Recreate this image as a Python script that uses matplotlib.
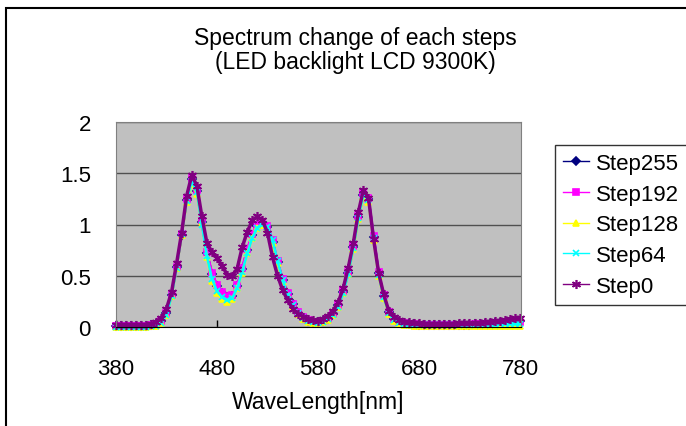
import numpy as np
import matplotlib
matplotlib.use("Agg")
import matplotlib.pyplot as plt
from matplotlib.patches import Rectangle

plt.rcParams['font.family'] = ['Liberation Sans', 'DejaVu Sans']

# wavelength in nm, one reading every 5 nm from 380 to 780
wavelength = np.arange(380, 781, 5)

step255 = [0.01, 0.01, 0.01, 0.01, 0.01, 0.01, 0.01, 0.02, 0.03, 0.06,
           0.14, 0.31, 0.59, 0.90, 1.24, 1.44, 1.33, 1.02, 0.72, 0.52,
           0.40, 0.33, 0.29, 0.30, 0.40, 0.57, 0.75, 0.90, 0.99, 1.02,
           0.98, 0.83, 0.63, 0.46, 0.32, 0.22, 0.14, 0.09, 0.06, 0.05,
           0.045, 0.055, 0.08, 0.13, 0.21, 0.34, 0.53, 0.78, 1.07, 1.29,
           1.25, 0.88, 0.53, 0.30, 0.15, 0.08, 0.05, 0.035, 0.03, 0.025,
           0.02, 0.02, 0.02, 0.02, 0.02, 0.02, 0.02, 0.02, 0.02, 0.02,
           0.02, 0.025, 0.025, 0.03, 0.03, 0.035, 0.04, 0.04, 0.045, 0.05,
           0.055]
step192 = [0.01, 0.01, 0.01, 0.01, 0.01, 0.01, 0.01, 0.02, 0.03, 0.06,
           0.14, 0.31, 0.59, 0.91, 1.25, 1.45, 1.34, 1.03, 0.73, 0.53,
           0.41, 0.34, 0.30, 0.31, 0.41, 0.58, 0.76, 0.91, 1.00, 1.02,
           0.99, 0.85, 0.64, 0.47, 0.33, 0.22, 0.15, 0.10, 0.065, 0.05,
           0.045, 0.055, 0.08, 0.13, 0.21, 0.35, 0.54, 0.79, 1.08, 1.31,
           1.26, 0.89, 0.54, 0.31, 0.15, 0.08, 0.05, 0.035, 0.03, 0.025,
           0.02, 0.02, 0.02, 0.02, 0.02, 0.02, 0.02, 0.02, 0.02, 0.02,
           0.02, 0.025, 0.025, 0.03, 0.03, 0.035, 0.04, 0.04, 0.045, 0.05,
           0.05]
step128 = [0.0, 0.0, 0.0, 0.0, 0.0, 0.0, 0.0, 0.005, 0.01, 0.04,
           0.12, 0.30, 0.58, 0.90, 1.22, 1.40, 1.30, 1.02, 0.68, 0.45,
           0.33, 0.27, 0.245, 0.27, 0.38, 0.53, 0.72, 0.87, 0.97, 1.00,
           0.96, 0.82, 0.62, 0.44, 0.30, 0.20, 0.13, 0.08, 0.05, 0.04,
           0.035, 0.045, 0.07, 0.12, 0.20, 0.33, 0.52, 0.76, 1.05, 1.27,
           1.22, 0.85, 0.50, 0.28, 0.13, 0.06, 0.03, 0.02, 0.015, 0.01,
           0.01, 0.01, 0.01, 0.01, 0.01, 0.01, 0.01, 0.01, 0.01, 0.01,
           0.01, 0.01, 0.01, 0.01, 0.01, 0.01, 0.01, 0.01, 0.01, 0.01,
           0.01]
step64 = [0.0, 0.0, 0.0, 0.0, 0.0, 0.0, 0.0, 0.005, 0.01, 0.04,
          0.12, 0.30, 0.58, 0.91, 1.23, 1.42, 1.32, 1.00, 0.69, 0.47,
          0.35, 0.29, 0.26, 0.28, 0.38, 0.54, 0.72, 0.87, 0.97, 1.00,
          0.98, 0.85, 0.64, 0.46, 0.31, 0.21, 0.14, 0.09, 0.06, 0.045,
          0.04, 0.05, 0.075, 0.12, 0.20, 0.33, 0.52, 0.77, 1.06, 1.29,
          1.24, 0.87, 0.51, 0.29, 0.14, 0.07, 0.04, 0.025, 0.02, 0.015,
          0.015, 0.015, 0.015, 0.015, 0.015, 0.015, 0.015, 0.015, 0.015, 0.015,
          0.015, 0.015, 0.015, 0.02, 0.02, 0.02, 0.025, 0.025, 0.03, 0.03,
          0.03]
step0 = [0.02, 0.02, 0.02, 0.02, 0.02, 0.02, 0.02, 0.03, 0.05, 0.09,
         0.18, 0.34, 0.62, 0.92, 1.28, 1.48, 1.38, 1.08, 0.82, 0.73,
         0.67, 0.60, 0.51, 0.50, 0.57, 0.78, 0.93, 1.04, 1.08, 1.04,
         0.92, 0.68, 0.50, 0.36, 0.26, 0.18, 0.13, 0.10, 0.08, 0.065,
         0.06, 0.08, 0.11, 0.16, 0.24, 0.38, 0.58, 0.82, 1.12, 1.34,
         1.26, 0.86, 0.53, 0.32, 0.16, 0.10, 0.07, 0.05, 0.045, 0.04,
         0.035, 0.03, 0.03, 0.03, 0.03, 0.03, 0.03, 0.03, 0.035, 0.035,
         0.035, 0.04, 0.04, 0.045, 0.05, 0.055, 0.06, 0.065, 0.075, 0.085,
         0.09]

labels = ["Step255", "Step192", "Step128", "Step64", "Step0"]
series = [step255, step192, step128, step64, step0]
colors = ["#000080", "#FF00FF", "#FFFF00", "#00FFFF", "#800080"]
markers = ["D", "s", "^", "x", (6, 2, 0)]
msizes = [4, 4, 5, 5, 6.5]
lwidths = [1.8, 1.8, 1.8, 1.8, 2.5]

W, H = 686, 427
fig = plt.figure(figsize=(W / 100, H / 100), dpi=100)
fig.patch.set_facecolor("white")

# chart area border (right and bottom run off the picture)
fig.patches.append(Rectangle((6 / W, -0.2), 1.2, 1.2 - 9 / H,
                             transform=fig.transFigure, fill=False,
                             edgecolor="black", linewidth=1.5))

ax = fig.add_axes([116 / W, 1 - 328 / H, (521 - 116) / W, (328 - 123) / H])
ax.set_facecolor("#C0C0C0")

lines = []
for y, lab, c, m, ms, lw in zip(series, labels, colors, markers, msizes, lwidths):
    ln, = ax.plot(wavelength, y, color=c, marker=m, markersize=ms, linewidth=lw,
                  markeredgewidth=1.2, label=lab, clip_on=False)
    lines.append(ln)

ax.set_xlim(380, 781)
ax.set_ylim(0, 2)
ax.set_xticks([380, 480, 580, 680, 780])
ax.set_yticks([0, 0.5, 1, 1.5, 2])
ax.set_yticklabels(["0", "0.5", "1", "1.5", "2"])
ax.yaxis.grid(True, color="#505050", linewidth=1)
ax.set_axisbelow(True)
ax.tick_params(axis="x", direction="in", length=5, width=1, pad=22,
               labelsize=16, color="black")
ax.tick_params(axis="y", length=0, pad=18, labelsize=16)
for s in ["top", "right", "left"]:
    ax.spines[s].set_color("#808080")
ax.spines["bottom"].set_color("black")

ax.set_xlabel("WaveLength[nm]", fontsize=16.5, labelpad=8)

fig.text(355 / W, 1 - 39 / H, "Spectrum change of each steps",
         ha="center", va="center", fontsize=16.5)
fig.text(355 / W, 1 - 63 / H, "(LED backlight LCD 9300K)",
         ha="center", va="center", fontsize=16.5)

leg = fig.legend(loc="upper left", bbox_to_anchor=(555 / W, 1 - 146 / H),
                 fontsize=16, frameon=True, fancybox=False, borderaxespad=0,
                 handlelength=1.2, handletextpad=0.3, labelspacing=0.44,
                 borderpad=0.35, numpoints=1)
leg.get_frame().set_edgecolor("black")
leg.get_frame().set_linewidth(1)
for h in leg.legend_handles:
    h.set_linewidth(1)

fig.savefig("out.png", dpi=100)
